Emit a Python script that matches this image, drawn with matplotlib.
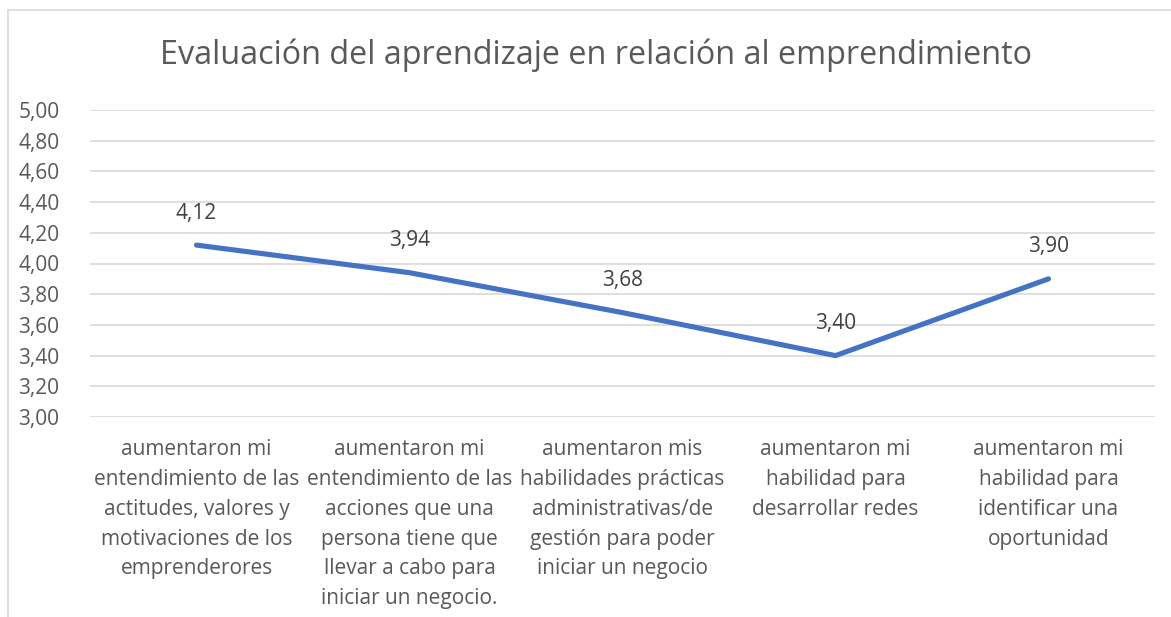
import matplotlib
matplotlib.use("Agg")
import matplotlib.pyplot as plt
from matplotlib.lines import Line2D

categories = [
    "aumentaron mi\nentendimiento de las\nactitudes, valores y\nmotivaciones de los\nemprenderores",
    "aumentaron mi\nentendimiento de las\nacciones que una\npersona tiene que\nllevar a cabo para\niniciar un negocio.",
    "aumentaron mis\nhabilidades prácticas\nadministrativas/de\ngestión para poder\niniciar un negocio",
    "aumentaron mi\nhabilidad para\ndesarrollar redes",
    "aumentaron mi\nhabilidad para\nidentificar una\noportunidad",
]
values = [4.12, 3.94, 3.68, 3.40, 3.90]
yticks = [3.0, 3.2, 3.4, 3.6, 3.8, 4.0, 4.2, 4.4, 4.6, 4.8, 5.0]
title = "Evaluación del aprendizaje en relación al emprendimiento"

W, H = 1171, 617
plt.rcParams['font.family'] = ['Open Sans', 'DejaVu Sans']
fig = plt.figure(figsize=(W / 100, H / 100), dpi=100)
fig.patch.set_facecolor("white")

# chart border (left and top visible)
fig.add_artist(Line2D([8 / W, 8 / W], [0, 1 - 10 / H], color="#D9D9D9", lw=1.2, transform=fig.transFigure))
fig.add_artist(Line2D([8 / W, 1], [1 - 10 / H, 1 - 10 / H], color="#D9D9D9", lw=1.2, transform=fig.transFigure))

left, right = 90 / W, 1155 / W
bottom, top = 1 - 417 / H, 1 - 110 / H
ax = fig.add_axes([left, bottom, right - left, top - bottom])

x = list(range(len(values)))
ax.plot(x, values, color="#4472C4", lw=3.7, solid_capstyle="round", solid_joinstyle="round", zorder=3)

for xi, v in zip(x, values):
    ax.annotate(f"{v:.2f}".replace(".", ","), (xi, v), xytext=(0, 23), textcoords="offset points",
                ha="center", va="center", fontsize=15, color="#404040", zorder=4)

ax.set_xlim(-0.5, len(values) - 0.5)
ax.set_ylim(3.0, 5.0)
ax.set_yticks(yticks)
ax.set_yticklabels([f"{t:.2f}".replace(".", ",") for t in yticks], fontsize=15, color="#595959")
ax.set_xticks(x)
ax.set_xticklabels(categories, fontsize=15, color="#595959", linespacing=1.55, va="top")
ax.tick_params(axis="both", length=0)
ax.tick_params(axis="y", pad=22)
ax.tick_params(axis="x", pad=16)
ax.grid(axis="y", color="#D9D9D9", lw=1.2)
ax.set_axisbelow(True)
for s in ax.spines.values():
    s.set_visible(False)

fig.text(596 / W, 1 - 55 / H, title, ha="center", va="center", fontsize=23.3, color="#595959")

fig.savefig("out.png", dpi=100, facecolor="white")
